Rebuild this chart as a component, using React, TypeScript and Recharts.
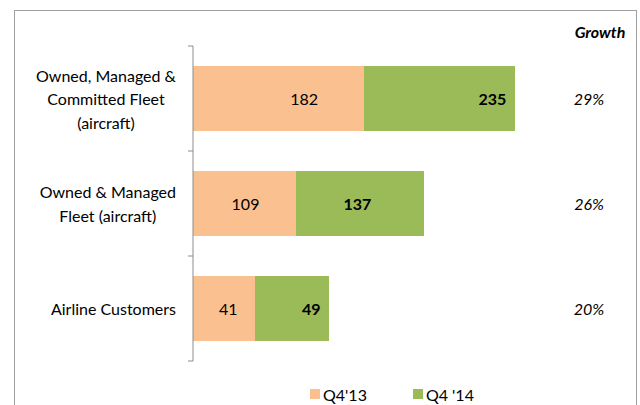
import React from "react";
import { BarChart, Bar, XAxis, YAxis, Legend, LabelList } from "recharts";

// categories, top to bottom ("\n" = line break in the axis label)
const categories = [
  "Owned, Managed &\nCommitted Fleet\n(aircraft)",
  "Owned & Managed\nFleet (aircraft)",
  "Airline Customers",
];

const seriesNames = ["Q4'13", "Q4 '14"];

// printed values
const q4_13 = [182, 109, 41];
const q4_14 = [235, 137, 49];

// segment lengths as drawn in the source slide (not to scale with the printed numbers)
const q4_13Drawn = [171, 103, 62];
const q4_14Drawn = [151, 128, 74];

const growth = ["29%", "26%", "20%"];

// where each value label sits along its segment (0 = start, 1 = end)
const q4_13LabelAt = [0.65, 0.51, 0.57];
const q4_14LabelAt = [0.85, 0.48, 0.76];

const ORANGE = "#FAC090";
const GREEN = "#9BBB59";
const AXIS = "#8C8C8C";
const FONT = "Lato, 'Noto Sans', sans-serif";
const FS = 16;

const data = categories.map((name, i) => ({
  name,
  q13: q4_13Drawn[i],
  q14: q4_14Drawn[i],
  q13Label: q4_13[i],
  q14Label: q4_14[i],
}));

let ctx: CanvasRenderingContext2D | null = null;
const textWidth = (s: string) => {
  if (!ctx) ctx = document.createElement("canvas").getContext("2d");
  if (!ctx) return s.length * FS * 0.5;
  ctx.font = `${FS}px ${FONT}`;
  return ctx.measureText(s).width;
};

const CategoryTick = (props: any) => {
  const { x, y, payload, index, visibleTicksCount } = props;
  const half = payload && payload.offset ? payload.offset : 52.5;
  const lines = String(payload.value).split("\n");
  const maxW = Math.max(...lines.map(textWidth));
  const cx = x - 17 - maxW / 2;
  const lh = 23.5;
  return (
    <g>
      <line x1={x - 5} x2={x} y1={y - half} y2={y - half} stroke={AXIS} />
      {index === visibleTicksCount - 1 && (
        <line x1={x - 5} x2={x} y1={y + half} y2={y + half} stroke={AXIS} />
      )}
      {lines.map((l, i) => (
        <text
          key={i}
          x={cx}
          y={y + (i - (lines.length - 1) / 2) * lh}
          textAnchor="middle"
          dominantBaseline="central"
          fontSize={FS}
          fontFamily={FONT}
          fill="#000"
        >
          {l}
        </text>
      ))}
    </g>
  );
};

const GrowthTick = (props: any) => {
  const { x, y, index } = props;
  return (
    <text
      x={x + 49}
      y={y}
      textAnchor="middle"
      dominantBaseline="central"
      fontSize={FS}
      fontStyle="italic"
      fontFamily={FONT}
      fill="#000"
    >
      {growth[index]}
    </text>
  );
};

const makeLabel = (at: number[], bold: boolean) => (props: any) => {
  const { x, y, width, height, value, index } = props;
  return (
    <text
      x={Number(x) + Number(width) * at[index]}
      y={Number(y) + Number(height) / 2}
      textAnchor="middle"
      dominantBaseline="central"
      fontSize={FS}
      fontWeight={bold ? 700 : 400}
      fontFamily={FONT}
      fill="#000"
    >
      {value}
    </text>
  );
};

const LegendContent = (props: any) => {
  const items = [...(props.payload || [])].sort(
    (a: any, b: any) => seriesNames.indexOf(a.value) - seriesNames.indexOf(b.value)
  );
  return (
    <div style={{ display: "flex", paddingLeft: 310, height: 20, alignItems: "center" }}>
      {items.map((p: any, i: number) => (
        <div key={i} style={{ display: "flex", alignItems: "center", marginRight: 46 }}>
          <span style={{ width: 10, height: 10, background: p.color, marginRight: 3 }} />
          <span style={{ fontSize: FS, fontFamily: FONT, color: "#000" }}>{p.value}</span>
        </div>
      ))}
    </div>
  );
};

export default function App() {
  return (
    <div
      style={{
        position: "fixed",
        top: 0,
        left: 0,
        width: 640,
        height: 405,
        overflow: "hidden",
        background: "#fff",
        fontFamily: FONT,
      }}
    >
      <div
        style={{
          position: "absolute",
          left: 14,
          top: 10,
          width: 621,
          height: 420,
          border: "1px solid #A0A0A0",
        }}
      />
      <div
        style={{
          position: "absolute",
          left: 560,
          top: 22,
          width: 80,
          lineHeight: "20px",
          textAlign: "center",
          fontSize: FS,
          fontWeight: 700,
          fontStyle: "italic",
        }}
      >
        Growth
      </div>
      <div style={{ position: "absolute", left: 0, top: 0 }}>
        <BarChart
          width={640}
          height={405}
          data={data}
          layout="vertical"
          margin={{ top: 46, right: 0, bottom: 44, left: 0 }}
          barCategoryGap="19%"
        >
          <XAxis type="number" hide domain={[0, 347]} />
          <YAxis
            type="category"
            dataKey="name"
            width={193}
            tickLine={false}
            tickSize={0}
            tickMargin={0}
            axisLine={{ stroke: AXIS }}
            tick={<CategoryTick />}
            interval={0}
          />
          <YAxis
            yAxisId="g"
            type="category"
            dataKey="name"
            orientation="right"
            width={100}
            tickLine={false}
            tickSize={0}
            tickMargin={0}
            axisLine={false}
            tick={<GrowthTick />}
            interval={0}
          />
          <Legend
            verticalAlign="middle"
            align="center"
            layout="horizontal"
            wrapperStyle={{ top: 384, left: 0, width: 640 }}
            content={<LegendContent />}
          />
          <Bar dataKey="q13" name={seriesNames[0]} stackId="a" fill={ORANGE} isAnimationActive={false}>
            <LabelList dataKey="q13Label" content={makeLabel(q4_13LabelAt, false)} />
          </Bar>
          <Bar dataKey="q14" name={seriesNames[1]} stackId="a" fill={GREEN} isAnimationActive={false}>
            <LabelList dataKey="q14Label" content={makeLabel(q4_14LabelAt, true)} />
          </Bar>
        </BarChart>
      </div>
    </div>
  );
}
